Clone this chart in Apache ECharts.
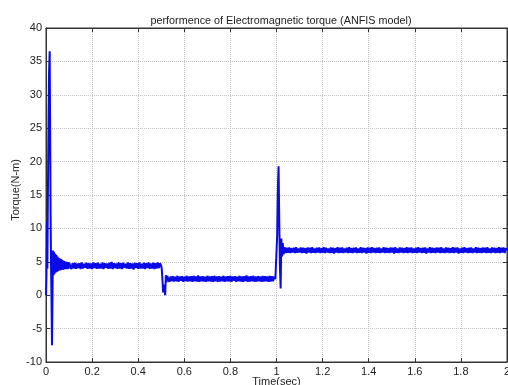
<!DOCTYPE html>
<html><head><meta charset="utf-8">
<script src="https://cdn.jsdelivr.net/npm/echarts@6/dist/echarts.min.js"></script>
<style>html,body{margin:0;padding:0;background:#fff}#c{width:508px;height:385px}</style>
</head><body><div id="c"></div>
<script>
const titleText = 'performence of Electromagnetic torque (ANFIS model)';
const xName = 'Time(sec)';
const yName = 'Torque(N-m)';
const xTicks = [0,0.2,0.4,0.6,0.8,1,1.2,1.4,1.6,1.8,2];
const yTicks = [-10,-5,0,5,10,15,20,25,30,35,40];

// start-up transient
const startT = [0,0.002,0.004,0.006,0.008,0.011,0.013,0.016,0.018,0.020,0.022,0.024,0.026,0.028,0.030,0.0325,0.035,0.0375,0.040,0.0425,0.045,0.0475,0.050,0.0525,0.055,0.0575,0.060,0.0625,0.065,0.0675,0.070,0.0725,0.075,0.0775,0.080,0.0825,0.085,0.0875,0.090,0.0925,0.095,0.0975,0.100];
const startY = [0,3,11,4,14,26,33,36.5,24,12,4,-1,-7.5,-1,6.7,3.0,6.5,3.2,6.2,3.4,6.0,3.5,5.8,3.6,5.6,3.7,5.5,3.7,5.4,3.8,5.3,3.8,5.2,3.85,5.1,3.9,5.0,3.9,5.0,3.9,4.95,3.95,4.9];

const bandDt = 0.005;
// steady band 1: t = 0.105 .. 0.5
const band1Start = 0.105;
const band1Y = [
4.9,3.9,4.8,4.0,4.85,3.95,4.75,4.05,4.8,3.9,4.9,4.0,4.7,4.1,4.85,3.95,4.8,4.0,4.75,3.9,
4.9,4.05,4.8,3.95,4.85,4.0,4.7,4.0,4.9,3.9,4.8,4.1,4.75,3.95,4.85,4.0,5.0,3.9,4.8,4.05,
4.75,3.95,4.9,4.0,4.8,3.9,4.85,4.1,4.7,4.0,4.9,3.95,4.8,4.0,4.75,3.85,4.85,4.05,4.8,3.95,
4.9,4.0,4.7,4.0,4.85,3.9,4.8,4.05,4.9,3.95,4.75,4.0,4.85,3.9,4.8,4.0,4.9,4.05,4.8,4.4];

// load drop at 0.5 s
const dropT = [0.502,0.505,0.508,0.511,0.514,0.517,0.520,0.523,0.526];
const dropY = [4.0,2.5,0.4,1.6,0.8,0.0,3.0,1.9,2.9];

// steady band 2: t = 0.53 .. 0.995
const band2Start = 0.53;
const band2Y = [
2.9,2.0,2.8,2.1,2.85,2.05,2.75,2.1,2.9,2.0,2.8,2.15,2.85,2.0,2.75,2.1,2.9,2.05,2.8,2.1,
2.85,2.0,2.9,2.1,2.8,2.05,2.95,2.0,2.8,2.1,2.85,2.05,2.75,2.0,2.9,2.1,2.8,2.05,2.85,2.0,
2.9,2.1,2.8,2.0,2.85,2.05,2.75,2.1,2.9,2.0,2.8,2.1,2.85,2.05,2.9,2.0,2.8,2.15,2.85,2.0,
2.75,2.1,2.9,2.05,2.8,2.0,2.85,2.1,2.95,2.0,2.8,2.05,2.85,2.1,2.9,2.0,2.8,2.05,2.85,2.1,
2.8,2.0,2.9,2.05,2.85,2.1,2.8,2.0,2.9,2.05,2.85,2.1,2.8,2.4];

// load step at 1.0 s
const stepT = [1.0,1.003,1.006,1.009,1.012,1.015,1.018,1.021,1.024,1.027,1.031];
const stepY = [2.4,9,16,19.3,11,4,1.0,8.5,5.8,7.8,6.1];

// steady band 3: t = 1.035 .. 2.0
const band3Start = 1.035;
const band3Y = [
7.2,6.3,7.1,6.35,7.15,6.3,7.05,6.4,7.1,6.3,7.2,6.35,7.0,6.4,7.15,6.3,7.1,6.35,7.05,6.25,
7.15,6.4,7.1,6.3,7.2,6.35,7.0,6.3,7.1,6.4,7.15,6.3,7.05,6.35,7.2,6.3,7.1,6.4,7.0,6.3,
7.15,6.35,7.1,6.25,7.05,6.4,7.2,6.3,7.1,6.35,7.15,6.3,7.0,6.4,7.1,6.3,7.2,6.35,7.05,6.3,
7.1,6.4,7.15,6.3,7.0,6.35,7.2,6.3,7.1,6.4,7.05,6.25,7.15,6.35,7.1,6.3,7.2,6.4,7.05,6.3,
7.1,6.35,7.15,6.3,7.0,6.4,7.2,6.3,7.1,6.35,7.05,6.3,7.15,6.4,7.1,6.25,7.2,6.35,7.0,6.3,
7.15,6.4,7.1,6.3,7.05,6.35,7.2,6.3,7.1,6.4,7.15,6.3,7.0,6.35,7.1,6.3,7.2,6.4,7.05,6.3,
7.1,6.35,7.15,6.25,7.0,6.4,7.2,6.3,7.1,6.35,7.05,6.3,7.15,6.4,7.1,6.3,7.2,6.35,7.0,6.3,
7.15,6.4,7.1,6.3,7.05,6.35,7.2,6.3,7.1,6.4,7.15,6.25,7.0,6.35,7.1,6.3,7.2,6.4,7.05,6.3,
7.1,6.35,7.15,6.3,7.0,6.4,7.2,6.3,7.1,6.35,7.05,6.3,7.15,6.4,7.1,6.3,7.2,6.35,7.0,6.3,
7.15,6.4,7.1,6.3,7.05,6.35,7.2,6.3,7.1,6.4,7.15,6.3,7.05,6.7];

const pts = [];
startT.forEach((t,i)=>pts.push([t,startY[i]]));
band1Y.forEach((v,i)=>pts.push([+(band1Start+i*bandDt).toFixed(4),v]));
dropT.forEach((t,i)=>pts.push([t,dropY[i]]));
band2Y.forEach((v,i)=>pts.push([+(band2Start+i*bandDt).toFixed(4),v]));
stepT.forEach((t,i)=>pts.push([t,stepY[i]]));
band3Y.forEach((v,i)=>pts.push([+(band3Start+i*bandDt).toFixed(4),v]));

const font = 'Liberation Sans, Arial, sans-serif';
const chart = echarts.init(document.getElementById('c'), null, {renderer:'canvas'});
const xBase = {type:'value', min:0, max:2, interval:0.2};
const yBase = {type:'value', min:-10, max:40, interval:5};
chart.setOption({
  animation:false,
  backgroundColor:'#fff',
  title:{text:titleText,left:276,top:11,textAlign:'center',
    textStyle:{fontFamily:font,fontSize:10.8,fontWeight:'normal',color:'#222'}},
  grid:{left:46,right:1,top:28,bottom:23,show:true,borderColor:'#333',borderWidth:1,backgroundColor:'#fff',
    containLabel:false,outerBoundsMode:'none'},
  xAxis:[Object.assign({},xBase,{
    position:'bottom',name:xName,nameLocation:'middle',nameGap:14,nameMoveOverlap:false,
    nameTextStyle:{fontFamily:font,fontSize:11,color:'#222'},
    axisLine:{show:true,onZero:false,lineStyle:{color:'#333'}},
    axisTick:{show:true,inside:true,length:4,lineStyle:{color:'#333'}},
    axisLabel:{fontFamily:font,fontSize:11,color:'#222',margin:4,hideOverlap:false,
      formatter:v=>String(+v.toFixed(1))},
    splitLine:{show:true,lineStyle:{type:'dotted',color:'#c4c4c4',width:1}}
  }),Object.assign({},xBase,{
    position:'top',axisLine:{show:true,onZero:false,lineStyle:{color:'#333'}},
    axisTick:{show:true,inside:true,length:4,lineStyle:{color:'#333'}},
    axisLabel:{show:false},splitLine:{show:false}
  })],
  yAxis:[Object.assign({},yBase,{
    position:'left',name:yName,nameLocation:'middle',nameGap:25,nameMoveOverlap:false,
    nameTextStyle:{fontFamily:font,fontSize:11,color:'#222',padding:[0,0,0,10]},
    axisLine:{show:true,onZero:false,lineStyle:{color:'#333'}},
    axisTick:{show:true,inside:true,length:4,lineStyle:{color:'#333'}},
    axisLabel:{fontFamily:font,fontSize:11,color:'#222',margin:4},
    splitLine:{show:true,lineStyle:{type:'dotted',color:'#c4c4c4',width:1}}
  }),Object.assign({},yBase,{
    position:'right',axisLine:{show:true,onZero:false,lineStyle:{color:'#333'}},
    axisTick:{show:true,inside:true,length:4,lineStyle:{color:'#333'}},
    axisLabel:{show:false},splitLine:{show:false}
  })],
  series:[{
    type:'line',data:pts,showSymbol:false,symbol:'none',sampling:null,
    lineStyle:{color:'#0a0ae8',width:2},xAxisIndex:0,yAxisIndex:0,z:5
  }]
});
</script></body></html>
